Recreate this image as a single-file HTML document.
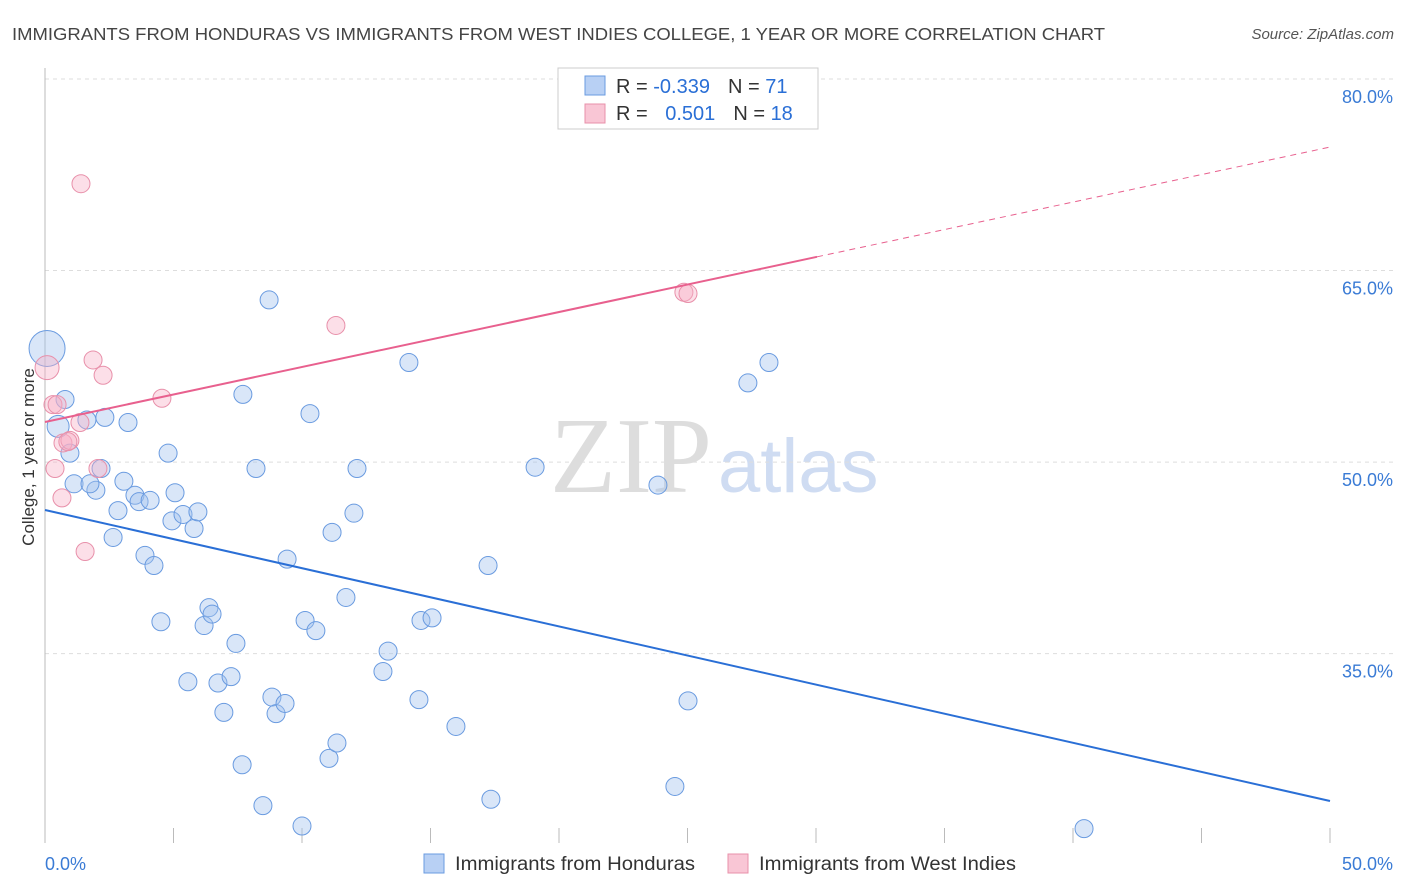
<!DOCTYPE html>
<html><head><meta charset="utf-8"><style>
body{margin:0;background:#fff;font-family:"Liberation Sans",sans-serif;}
#wrap{position:relative;width:1406px;height:892px;overflow:hidden;}
</style></head><body>
<div id="wrap">
<svg id="svg" width="1406" height="892" xmlns="http://www.w3.org/2000/svg">
<text x="12" y="40" font-size="17.5" fill="#444" textLength="1093" lengthAdjust="spacingAndGlyphs">IMMIGRANTS FROM HONDURAS VS IMMIGRANTS FROM WEST INDIES COLLEGE, 1 YEAR OR MORE CORRELATION CHART</text>
<text x="1394" y="39" font-size="15" fill="#555" font-style="italic" text-anchor="end">Source: ZipAtlas.com</text>
<text x="712" y="492" font-size="108" fill="#ddd" text-anchor="end" font-family="Liberation Serif,serif">ZIP</text>
<text x="718" y="492" font-size="76" fill="#cfdcf2">atlas</text>
<text transform="translate(34,457) rotate(-90)" font-size="17" fill="#333" text-anchor="middle">College, 1 year or more</text>
<g id="grid"></g><g id="ticks"></g><g id="pts"></g><g id="lines"></g>
<g>
<rect x="558" y="68" width="260" height="61" fill="#fff" stroke="#ccc"/>
<rect x="585" y="76" width="20" height="19" fill="#b8d0f4" stroke="#6a9be0"/>
<rect x="585" y="104" width="20" height="19" fill="#f9c6d5" stroke="#e890aa"/>
<text x="616" y="93" font-size="20" fill="#333">R = <tspan fill="#2a6fd6">-0.339</tspan><tspan dx="18">N = </tspan><tspan fill="#2a6fd6">71</tspan></text>
<text x="616" y="120" font-size="20" fill="#333">R = <tspan dx="12" fill="#2a6fd6">0.501</tspan><tspan dx="18">N = </tspan><tspan fill="#2a6fd6">18</tspan></text>
</g>
<g>
<rect x="424" y="854" width="20" height="19" fill="#b8d0f4" stroke="#6a9be0"/>
<text x="455" y="870" font-size="19" fill="#333" textLength="240" lengthAdjust="spacingAndGlyphs">Immigrants from Honduras</text>
<rect x="728" y="854" width="20" height="19" fill="#f9c6d5" stroke="#e890aa"/>
<text x="759" y="870" font-size="19" fill="#333" textLength="257" lengthAdjust="spacingAndGlyphs">Immigrants from West Indies</text>
</g>
</svg>
<script>
const xTicks=[0,5,10,15,20,25,30,35,40,45,50];
const yTicks=[35,50,65,80];
const yTickLabels=["35.0%","50.0%","65.0%","80.0%"];
const blueX=[0.08,0.51,0.78,0.97,1.13,1.63,1.98,1.75,2.18,2.33,2.65,2.84,3.07,3.23,3.50,3.66,3.89,4.09,4.24,4.51,4.79,4.94,5.06,5.37,5.56,5.80,5.95,6.19,6.38,6.50,6.73,6.96,7.24,7.43,7.67,7.70,8.21,8.48,8.72,8.83,8.99,9.34,9.42,10.0,10.12,10.31,10.54,11.05,11.17,11.36,11.71,12.02,12.14,13.15,13.35,14.16,14.55,14.63,15.06,15.99,17.24,17.35,19.07,23.85,24.51,25.02,27.35,28.17,40.43];
const blueY=[58.9,52.8,54.9,50.7,48.3,53.3,47.8,48.3,49.5,53.5,44.1,46.2,48.5,53.1,47.4,46.9,42.7,47.0,41.9,37.5,50.7,45.4,47.6,45.9,32.8,44.8,46.1,37.2,38.6,38.1,32.7,30.4,33.2,35.8,26.3,55.3,49.5,23.1,62.7,31.6,30.3,31.1,42.4,21.5,37.6,53.8,36.8,26.8,44.5,28.0,39.4,46.0,49.5,33.6,35.2,57.8,31.4,37.6,37.8,29.3,41.9,23.6,49.6,48.2,24.6,31.3,56.2,57.8,21.3];
const pinkX=[0.08,0.31,0.39,0.66,0.70,0.97,1.40,1.56,1.36,1.87,2.06,2.26,4.55,11.32,24.86,25.02,0.47,0.89];
const pinkY=[57.4,54.5,49.5,47.2,51.5,51.7,71.8,43.0,53.1,58.0,49.5,56.8,55.0,60.7,63.3,63.2,54.5,51.6];
const blueTrend=[46.25,23.46];
const pinkTrend=[53.14,74.67];
const pinkSolidEnd=30.04;
const NS="http://www.w3.org/2000/svg";
const X=v=>45+v*25.7, Y=v=>79+(80-v)*12.77;
function mk(t,a,p){const e=document.createElementNS(NS,t);for(const k in a)e.setAttribute(k,a[k]);p.appendChild(e);return e;}
const grid=document.getElementById('grid'),ticks=document.getElementById('ticks'),pts=document.getElementById('pts'),lines=document.getElementById('lines');
yTicks.forEach((t,i)=>{
 const l=mk('line',{x1:45,x2:1394,y1:Y(t),y2:Y(t),stroke:'#ddd','stroke-dasharray':'4,4'},grid);
 
 
 const tx=mk('text',{x:1393,y:Y(t)+24,'font-size':18,fill:'#3a7bd5','text-anchor':'end'},grid);
 tx.textContent=yTickLabels[i];
 
 
});
const ax=mk('line',{x1:45,x2:45,y1:68,y2:843,stroke:'#bbb'},ticks);


xTicks.forEach(t=>{
 const l=mk('line',{x1:X(t),x2:X(t),y1:828,y2:843,stroke:'#bbb'},ticks);
 
 
});
const xl0=mk('text',{x:45,y:870,'font-size':18,fill:'#3a7bd5'},ticks);xl0.textContent='0.0%';


const xl1=mk('text',{x:1393,y:870,'font-size':18,fill:'#3a7bd5','text-anchor':'end'},ticks);xl1.textContent='50.0%';


blueX.forEach((v,i)=>{
 const c=mk('circle',{cx:X(v),cy:Y(blueY[i]),r:i==0?18:(i==1?11:9),fill:'rgba(160,192,238,0.4)',stroke:'#6a9be0','stroke-width':1},pts);
 
 
});
pinkX.forEach((v,i)=>{
 const c=mk('circle',{cx:X(v),cy:Y(pinkY[i]),r:i==0?12:9,fill:'rgba(248,176,198,0.4)',stroke:'#e890aa','stroke-width':1},pts);
 
 
});
const bl=mk('line',{x1:X(0),y1:Y(blueTrend[0]),x2:X(50),y2:Y(blueTrend[1]),stroke:'#2a6fd6','stroke-width':2},lines);


const pm=t=>pinkTrend[0]+(pinkTrend[1]-pinkTrend[0])*t/50;
const pl=mk('line',{x1:X(0),y1:Y(pinkTrend[0]),x2:X(pinkSolidEnd),y2:Y(pm(pinkSolidEnd)),stroke:'#e8608e','stroke-width':2},lines);


const pd=mk('line',{x1:X(pinkSolidEnd),y1:Y(pm(pinkSolidEnd)),x2:X(50),y2:Y(pinkTrend[1]),stroke:'#e8608e','stroke-width':1,'stroke-dasharray':'6,5'},lines);


</script>
</div>
</body></html>
